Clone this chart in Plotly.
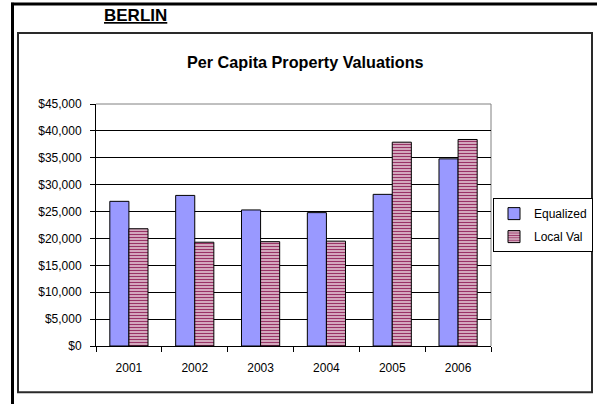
import plotly.graph_objects as go

years = ["2001", "2002", "2003", "2004", "2005", "2006"]
equalized = [26900, 28000, 25300, 24800, 28200, 34800]
local_val = [21800, 19300, 19400, 19500, 37900, 38400]

W, H = 597, 404
L, R, T, B = 96, 491, 104, 345.7

def px(x):
    return (x - L) / (R - L)

def py(y):
    return (B - y) / (B - T)

FONT = "Arial, Liberation Sans, sans-serif"

fig = go.Figure()
fig.add_trace(go.Bar(
    x=years, y=equalized, name="Equalized", legendgroup="eq",
    marker=dict(color="#9999FF", line=dict(color="black", width=1)),
))
fig.add_trace(go.Bar(
    x=years, y=local_val, name="Local Val", legendgroup="lv",
    marker=dict(color="white", line=dict(color="black", width=1),
                pattern=dict(shape="-", fgcolor="#993366", bgcolor="white",
                             size=3, solidity=0.62, fillmode="replace", fgopacity=1)),
))

shapes = [
    dict(type="line", xref="paper", yref="paper", x0=px(11), x1=px(597), y0=py(4), y1=py(4),
         line=dict(color="black", width=3), layer="above"),
    dict(type="line", xref="paper", yref="paper", x0=px(12.5), x1=px(12.5), y0=py(3), y1=py(404),
         line=dict(color="black", width=3), layer="above"),
    dict(type="rect", xref="paper", yref="paper", x0=px(18), x1=px(592), y0=py(33), y1=py(392),
         line=dict(color="#2a2a2a", width=2), layer="below"),
    dict(type="line", xref="paper", yref="paper", x0=0, x1=1, y0=1, y1=1,
         line=dict(color="#808080", width=1), layer="below"),
    dict(type="line", xref="paper", yref="paper", x0=1, x1=1, y0=0, y1=1,
         line=dict(color="#808080", width=1), layer="below"),
]

annotations = [
    dict(text="<b>Per Capita Property Valuations</b>", xref="paper", yref="paper",
         x=px(305.5), y=py(62), xanchor="center", yanchor="middle", showarrow=False,
         font=dict(family=FONT, size=16.2, color="black")),
    dict(text="<b><u>BERLIN</u></b>", xref="paper", yref="paper",
         x=px(135.5), y=py(16), xanchor="center", yanchor="middle", showarrow=False,
         font=dict(family=FONT, size=17, color="black")),
]

fig.update_layout(
    width=W, height=H,
    margin=dict(l=L, r=W - R, t=T, b=H - B, pad=0, autoexpand=False),
    paper_bgcolor="white", plot_bgcolor="white",
    barmode="group", bargap=0.42, bargroupgap=0,
    font=dict(family=FONT, size=12, color="black"),
    showlegend=True,
    legend=dict(x=px(493), y=py(198), xanchor="left", yanchor="top",
                bordercolor="black", borderwidth=1, bgcolor="white",
                font=dict(family=FONT, size=12, color="black"),
                itemwidth=30, tracegroupgap=4),
    shapes=shapes, annotations=annotations,
    xaxis=dict(type="category", showline=True, linecolor="black", linewidth=1,
               ticks="outside", tickson="boundaries", ticklen=5, tickcolor="black",
               showgrid=False, ticklabelstandoff=11, automargin=False,
               tickfont=dict(family=FONT, size=12, color="black")),
    yaxis=dict(range=[0, 45000], dtick=5000, tickprefix="$", tickformat=",d",
               showline=True, linecolor="black", linewidth=1,
               ticks="outside", ticklen=5, tickcolor="black",
               showgrid=True, gridcolor="black", gridwidth=1,
               zeroline=False, ticklabelstandoff=6, automargin=False,
               tickfont=dict(family=FONT, size=12, color="black")),
)

fig.write_html("out.html", config={"displayModeBar": False},
               post_script="document.body.style.margin='0';document.body.style.overflow='hidden';")
